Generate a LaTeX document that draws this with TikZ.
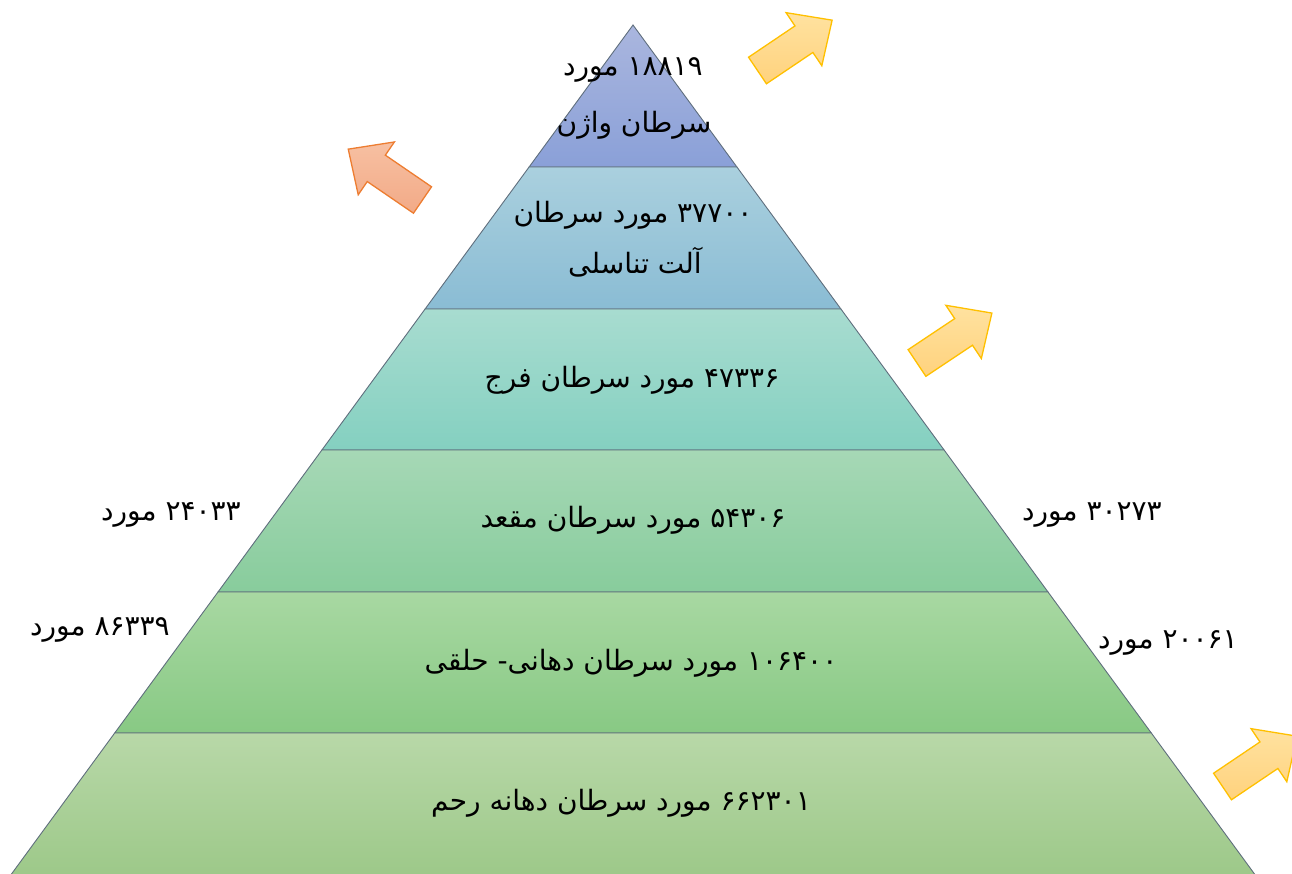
\documentclass[tikz,border=0pt]{standalone}
\usepackage{fontspec}
\newfontfamily\arabicfont[Script=Arabic]{DejaVu Sans}
\TeXXeTstate=1
\definecolor{edgegray}{RGB}{95,110,125}
\definecolor{yborder}{RGB}{255,192,0}
\definecolor{ytop}{RGB}{255,226,160}
\definecolor{ybot}{RGB}{255,210,125}
\definecolor{oborder}{RGB}{237,125,49}
\definecolor{otop}{RGB}{247,192,162}
\definecolor{obot}{RGB}{242,170,135}
\begin{document}
\begin{tikzpicture}[x=1pt,y=-1pt,
  layer/.style={draw=edgegray, line width=0.9pt},
  lbl/.style={font=\arabicfont\fontsize{28}{32}\selectfont, inner sep=0pt, text=black},
  yarrow/.style={draw=yborder, line width=1.3pt, top color=ytop, bottom color=ybot},
  oarrow/.style={draw=oborder, line width=1.3pt, top color=otop, bottom color=obot},
  blockarrow/.pic={\path[pic actions] (0,-16) -- (56,-16) -- (56,-32) -- (90,0) -- (56,32) -- (56,16) -- (0,16) -- cycle;}
]
\useasboundingbox (0,0) rectangle (1292,874);
\begin{scope}
\clip (0,0) rectangle (1292,874);
% pyramid layers
\shadedraw[layer, top color={rgb,255:red,170;green,182;blue,222}, bottom color={rgb,255:red,138;green,160;blue,216}]
  (633,25) -- (736.9,167) -- (529.1,167) -- cycle;
\shadedraw[layer, top color={rgb,255:red,170;green,208;blue,222}, bottom color={rgb,255:red,138;green,188;blue,212}]
  (529.1,167) -- (736.9,167) -- (840.9,309) -- (425.1,309) -- cycle;
\shadedraw[layer, top color={rgb,255:red,168;green,220;blue,208}, bottom color={rgb,255:red,132;green,208;blue,192}]
  (425.1,309) -- (840.9,309) -- (944.1,450) -- (321.9,450) -- cycle;
\shadedraw[layer, top color={rgb,255:red,166;green,216;blue,182}, bottom color={rgb,255:red,136;green,204;blue,156}]
  (321.9,450) -- (944.1,450) -- (1048.0,592) -- (218.0,592) -- cycle;
\shadedraw[layer, top color={rgb,255:red,168;green,216;blue,162}, bottom color={rgb,255:red,136;green,201;blue,132}]
  (218.0,592) -- (1048.0,592) -- (1151.3,733) -- (114.7,733) -- cycle;
\shadedraw[layer, top color={rgb,255:red,184;green,216;blue,168}, bottom color={rgb,255:red,156;green,200;blue,136}]
  (114.7,733) -- (1151.3,733) -- (1258.9,880) -- (7.1,880) -- cycle;
% arrows
\pic[oarrow, rotate=145.6] (oa) at (422.5,200) {blockarrow};
\pic[yarrow, rotate=34] (ya1) at (757.5,70.5) {blockarrow};
\pic[yarrow, rotate=33.7] (ya2) at (917,363) {blockarrow};
\pic[yarrow, rotate=34] (ya3) at (1222.5,786.5) {blockarrow};
\end{scope}
% labels inside the pyramid
\node[lbl] (t1a) at (633,70) {\beginR ۱۸۸۱۹ مورد\endR};
\node[lbl] (t1b) at (634,125) {\beginR سرطان واژن\endR};
\node[lbl] (t2a) at (633,215) {\beginR ۳۷۷۰۰ مورد سرطان\endR};
\node[lbl] (t2b) at (635,262) {\beginR آلت تناسلی\endR};
\node[lbl] (t3) at (632,380) {\beginR ۴۷۳۳۶ مورد سرطان فرج\endR};
\node[lbl] (t4) at (633,520) {\beginR ۵۴۳۰۶ مورد سرطان مقعد\endR};
\node[lbl] (t5) at (631,663) {\beginR ۱۰۶۴۰۰ مورد سرطان دهانی- حلقی\endR};
\node[lbl] (t6) at (621,803) {\beginR ۶۶۲۳۰۱ مورد سرطان دهانه رحم\endR};
% side labels
\node[lbl] (l1) at (171,515) {\beginR ۲۴۰۳۳ مورد\endR};
\node[lbl] (l2) at (100,630) {\beginR ۸۶۳۳۹ مورد\endR};
\node[lbl] (r1) at (1092,515) {\beginR ۳۰۲۷۳ مورد\endR};
\node[lbl] (r2) at (1168,643) {\beginR ۲۰۰۶۱ مورد\endR};
\end{tikzpicture}
\end{document}
